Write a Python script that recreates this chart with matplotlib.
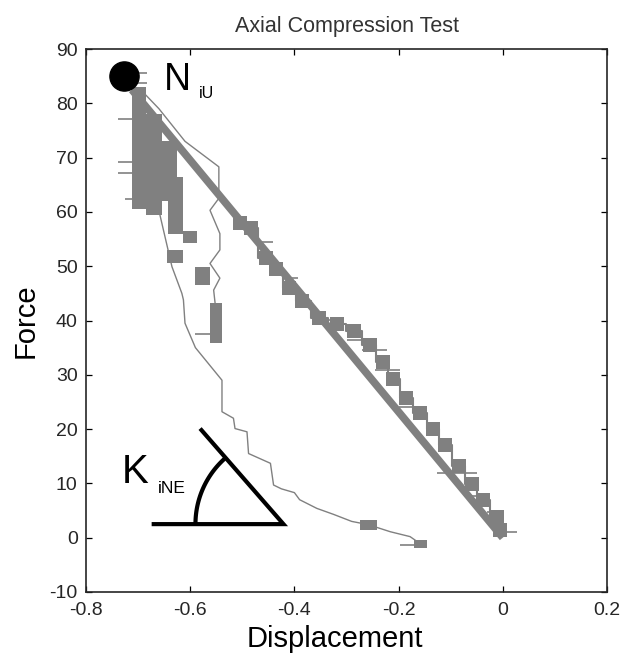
import matplotlib
matplotlib.use('Agg')
import matplotlib.pyplot as plt
import numpy as np

plt.rcParams['font.family'] = ['Liberation Sans', 'DejaVu Sans']
plt.rcParams['axes.unicode_minus'] = False

GRAY = '#808080'

# ultimate load point N_iU
peak_x = [-0.728]
peak_y = [85.0]

# straight band from the peak down to the origin
band_x = [-0.712, 0.0]
band_y = [82.5, 0.0]

# stepped readings along the upper side of the band
step_x = [-0.505, -0.483, -0.455, -0.435, -0.410, -0.385, -0.352, -0.318, -0.285, -0.255,
          -0.230, -0.210, -0.185, -0.158, -0.134, -0.110, -0.085, -0.060, -0.038, -0.012, -0.005]
step_y = [58.0, 57.0, 51.5, 49.5, 46.0, 43.5, 40.5, 39.4, 38.0, 35.5,
          32.4, 29.2, 25.8, 22.9, 20.0, 17.0, 13.2, 9.9, 7.0, 3.8, 1.5]

# short horizontal dashes
dash_y = [85.6, 83.8, 77.2, 69.2, 67.1, 62.3, 54.5, 47.8, 40.1, 36.4, 34.6, 30.9,
          24.1, 11.9, 7.6, 4.8, 1.1, 37.6, -1.3]
dash_x0 = [-0.712, -0.712, -0.738, -0.738, -0.738, -0.725, -0.471, -0.414, -0.344, -0.299, -0.270, -0.245,
           -0.200, -0.126, -0.062, -0.030, -0.005, -0.591, -0.197]
dash_x1 = [-0.683, -0.683, -0.712, -0.712, -0.712, -0.687, -0.441, -0.393, -0.306, -0.267, -0.222, -0.197,
           -0.145, -0.049, -0.024, 0.002, 0.027, -0.562, -0.171]

# dense clusters of readings (x range, force range)
blk_x0 = [-0.712, -0.685, -0.655, -0.642, -0.613, -0.645, -0.591, -0.562, -0.274, -0.171]
blk_x1 = [-0.685, -0.655, -0.625, -0.613, -0.587, -0.613, -0.562, -0.539, -0.242, -0.145]
blk_y0 = [60.5, 59.5, 62.0, 56.0, 54.2, 50.5, 46.5, 35.8, 1.4, -1.9]
blk_y1 = [83.0, 78.0, 73.0, 66.5, 56.4, 53.0, 49.9, 43.2, 3.3, -0.4]

# thin curve, outer branch
outer_x = [-0.690, -0.660, -0.635, -0.610, -0.545, -0.545, -0.562, -0.543, -0.543, -0.562,
           -0.543, -0.555, -0.552]
outer_y = [82.0, 79.0, 76.0, 73.0, 68.3, 62.5, 60.3, 56.0, 53.0, 50.5,
           47.8, 45.6, 43.0]

# thin curve, inner branch down to the tail
inner_x = [-0.660, -0.658, -0.635, -0.616, -0.613, -0.610, -0.590, -0.539, -0.539, -0.517,
           -0.514, -0.491, -0.488, -0.446, -0.440, -0.425, -0.400, -0.390, -0.357, -0.325,
           -0.290, -0.258, -0.216, -0.178, -0.160]
inner_y = [60.0, 59.4, 49.9, 45.0, 43.8, 39.5, 35.0, 29.0, 23.2, 22.0,
           20.1, 19.5, 15.5, 13.7, 9.7, 9.0, 8.3, 7.0, 5.4, 4.3,
           3.0, 2.4, 1.1, 0.2, -1.0]

# stiffness triangle K_iNE: base start, vertex, top of slope
tri_x = [-0.674, -0.421, -0.581]
tri_y = [2.5, 2.5, 20.1]
ARC_R = 88  # px

fig = plt.figure(figsize=(6.24, 6.59), dpi=100)
ax = fig.add_axes([86 / 624, 1 - 592 / 659, 521 / 624, 543 / 659])
ax.set_xlim(-0.8, 0.2)
ax.set_ylim(-10, 90)

ax.plot(outer_x, outer_y, color=GRAY, lw=1.0)
ax.plot(inner_x, inner_y, color=GRAY, lw=1.0)

bx0, bx1 = np.array(blk_x0), np.array(blk_x1)
by0, by1 = np.array(blk_y0), np.array(blk_y1)
ax.bar((bx0 + bx1) / 2, by1 - by0, width=bx1 - bx0, bottom=by0, color=GRAY, linewidth=0)

ax.plot(step_x, step_y, color=GRAY, lw=1.5, drawstyle='steps-mid')
ax.plot(step_x, step_y, 's', color=GRAY, markersize=10, markeredgewidth=0)
ax.hlines(dash_y, dash_x0, dash_x1, color=GRAY, lw=1.2)
ax.plot(band_x, band_y, color=GRAY, lw=5.5, solid_capstyle='butt')

ax.plot(peak_x, peak_y, 'o', color='black', markersize=21)
ax.text(-0.651, 82.4, 'N', fontsize=27, color='black')
ax.text(-0.584, 80.9, 'iU', fontsize=11.5, color='black')

# triangle and arc
ax.plot(tri_x, tri_y, color='black', lw=3, solid_joinstyle='miter', solid_capstyle='butt')
sx = 521 / 1.0
sy = 543 / 100.0
a0 = np.degrees(np.arctan2((tri_y[2] - tri_y[1]) * sy, (tri_x[2] - tri_x[1]) * sx))
t = np.radians(np.linspace(a0, 180, 40))
ax.plot(tri_x[1] + ARC_R * np.cos(t) / sx, tri_y[1] + ARC_R * np.sin(t) / sy,
        color='black', lw=3, solid_capstyle='butt')
ax.text(-0.731, 10.0, 'K', fontsize=29, color='black')
ax.text(-0.663, 8.2, 'iNE', fontsize=12.5, color='black')

ax.set_xticks([-0.8, -0.6, -0.4, -0.2, 0, 0.2])
ax.set_xticklabels(['-0.8', '-0.6', '-0.4', '-0.2', '0', '0.2'])
ax.set_yticks(range(-10, 91, 10))
ax.tick_params(direction='in', top=True, right=True, length=4.5, width=0.9,
               labelsize=14, labelcolor='#262626')
ax.tick_params(axis='x', pad=7)
ax.tick_params(axis='y', pad=6)
for s in ax.spines.values():
    s.set_linewidth(1.2)
    s.set_color('#262626')

ax.set_title('Axial Compression Test', fontsize=15.5, color='#333333', pad=12)
ax.set_xlabel('Displacement', fontsize=21)
ax.xaxis.set_label_coords(0.478, -0.06)
ax.set_ylabel('Force', fontsize=21, labelpad=7)

fig.savefig('out.png', dpi=100)
